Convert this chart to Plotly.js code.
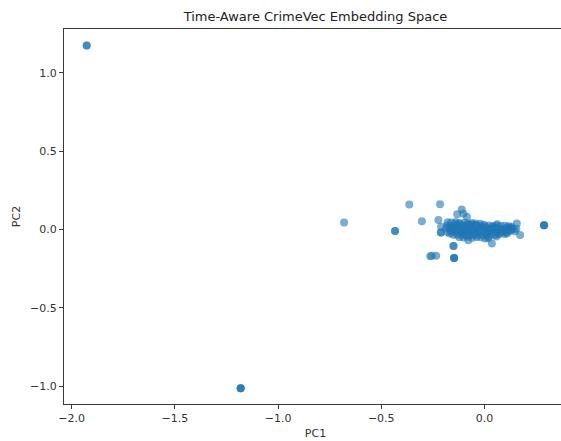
<!DOCTYPE html>
<html>
<head>
<meta charset="utf-8">
<script src="https://cdn.plot.ly/plotly-3.0.1.min.js"></script>
<style>
html,body{margin:0;padding:0;overflow:hidden;background:#fff;}
#chart{width:575px;height:441px;}
</style>
</head>
<body>
<div id="chart"></div>
<script>
// (PCA projection of embeddings)
const titleText = "Time-Aware CrimeVec Embedding Space";
const xLabel = "PC1";
const yLabel = "PC2";
const xTicks = [-2.0, -1.5, -1.0, -0.5, 0.0];
const xTickText = ["\u22122.0", "\u22121.5", "\u22121.0", "\u22120.5", "0.0"];
const yTicks = [-1.0, -0.5, 0.0, 0.5, 1.0];
const yTickText = ["\u22121.0", "\u22120.5", "0.0", "0.5", "1.0"];

// outliers and fringe points
const outlierPC1 = [-1.927, -1.927, -1.181, -1.181, -1.181, 0.289, 0.289, 0.289,
  -0.433, -0.433, -0.680, -0.364, -0.303, -0.263, -0.234, -0.255,
  -0.215, -0.223, -0.210, -0.211, -0.211, -0.150, -0.150, -0.147, -0.147, -0.147,
  -0.110, -0.102, -0.132, -0.085, 0.036, 0.173, 0.157, -0.078, 0.018, 0.003];
const outlierPC2 = [1.175, 1.175, -1.014, -1.014, -1.014, 0.027, 0.027, 0.027,
  -0.009, -0.009, 0.045, 0.160, 0.053, -0.171, -0.168, -0.168,
  0.162, 0.060, 0.017, -0.019, -0.019, -0.105, -0.105, -0.182, -0.182, -0.182,
  0.128, 0.100, 0.098, 0.081, -0.090, -0.036, 0.038, -0.068, -0.056, -0.058];

// dense main cluster
const clusterPC1 = [
  -0.178, -0.161, -0.139, -0.122, -0.098, -0.082, -0.061, -0.043, -0.021,
  -0.181, -0.163, -0.142, -0.119, -0.101, -0.079, -0.062, -0.039, -0.018, 0.001, 0.022, 0.041, 0.059, 0.081, 0.099, 0.118, 0.131,
  -0.186, -0.166, -0.144, -0.124, -0.103, -0.084, -0.063, -0.042, -0.023, -0.002, 0.019, 0.038, 0.061, 0.079, 0.102, 0.121, 0.139, 0.154,
  -0.179, -0.159, -0.141, -0.118, -0.099, -0.078, -0.058, -0.041, -0.019, 0.003, 0.021, 0.042, 0.058, 0.082, 0.101, 0.119, 0.148,
  -0.151, -0.132, -0.109, -0.091, -0.068, -0.052, -0.031, -0.011, 0.012, 0.032, 0.053, 0.071, 0.098,
  -0.121, -0.102, -0.081, -0.059, -0.038, -0.018, 0.021, 0.058,
  -0.171, -0.152, -0.118, -0.052, 0.012, 0.071, 0.128, -0.088, 0.041, 0.109,
  -0.131, -0.071, -0.011, 0.051, 0.111, -0.151, -0.091, -0.029, 0.031, 0.089,
  -0.168, -0.109, -0.049, 0.009, 0.069, 0.128, -0.139, -0.072, -0.002, 0.062];
const clusterPC2 = [
  0.046, 0.044, 0.048, 0.041, 0.043, 0.039, 0.042, 0.038, 0.036,
  0.026, 0.024, 0.027, 0.023, 0.025, 0.028, 0.022, 0.026, 0.024, 0.021, 0.025, 0.023, 0.026, 0.022, 0.024, 0.021, 0.018,
  0.006, 0.004, 0.007, 0.003, 0.005, 0.008, 0.002, 0.006, 0.004, 0.007, 0.003, 0.005, 0.006, 0.002, 0.004, 0.006, 0.003, 0.005,
  -0.016, -0.014, -0.018, -0.013, -0.015, -0.017, -0.012, -0.016, -0.014, -0.018, -0.015, -0.013, -0.016, -0.014, -0.017, -0.012, -0.011,
  -0.034, -0.036, -0.033, -0.037, -0.035, -0.032, -0.036, -0.034, -0.038, -0.033, -0.035, -0.031, -0.029,
  -0.049, -0.051, -0.047, -0.052, -0.048, -0.050, -0.046, -0.044,
  0.014, -0.004, 0.034, 0.031, 0.012, -0.004, 0.009, -0.026, 0.014, -0.025,
  0.015, 0.016, 0.014, 0.013, 0.012, -0.006, -0.005, -0.007, -0.004, -0.006,
  -0.026, -0.024, -0.025, -0.027, -0.023, -0.005, 0.035, 0.032, 0.031, 0.033];

const pc1 = outlierPC1.concat(clusterPC1);
const pc2 = outlierPC2.concat(clusterPC2);

const fontFam = "DejaVu Sans, sans-serif";
const trace = {
  type: "scatter",
  mode: "markers",
  x: pc1,
  y: pc2,
  marker: {color: "#1f77b4", size: 8, opacity: 0.6, line: {width: 0}},
  hoverinfo: "skip"
};

const axisCommon = {
  showgrid: false,
  zeroline: false,
  showline: true,
  linecolor: "#3a3a3a",
  linewidth: 1,
  ticks: "outside",
  ticklen: 4,
  tickwidth: 1,
  tickcolor: "#3a3a3a",
  tickfont: {family: fontFam, size: 11, color: "#333"},
  automargin: false
};

const layout = {
  width: 575,
  height: 441,
  margin: {l: 64, r: 8, t: 29, b: 37},
  paper_bgcolor: "#fff",
  plot_bgcolor: "#fff",
  showlegend: false,
  title: {
    text: titleText,
    font: {family: fontFam, size: 13, color: "#222"},
    x: 0.5, xref: "paper", xanchor: "center",
    y: 1 - 16/441, yref: "container", yanchor: "middle"
  },
  xaxis: Object.assign({}, axisCommon, {
    range: [-2.037, 0.40],
    tickvals: xTicks,
    ticktext: xTickText,
    mirror: true,
    title: {text: xLabel, font: {family: fontFam, size: 11, color: "#333"}, standoff: 5}
  }),
  yaxis: Object.assign({}, axisCommon, {
    range: [-1.115, 1.281],
    tickvals: yTicks,
    ticktext: yTickText,
    title: {text: yLabel, font: {family: fontFam, size: 11, color: "#333"}, standoff: 7}
  })
};

Plotly.newPlot("chart", [trace], layout, {staticPlot: true, displayModeBar: false});
</script>
</body>
</html>
